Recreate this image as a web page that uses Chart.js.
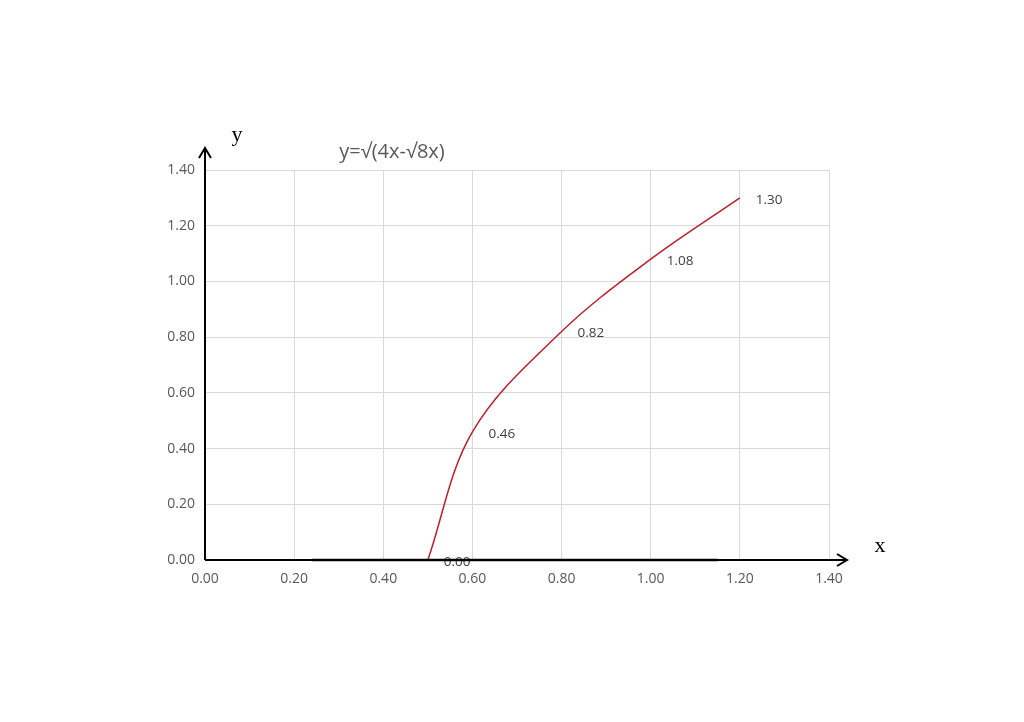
<!DOCTYPE html>
<html>
<head>
<meta charset="utf-8">
<script src="https://cdn.jsdelivr.net/npm/chart.js@4"></script>
<style>
html,body{margin:0;padding:0;background:#fff;}
#wrap{position:relative;width:1024px;height:722px;}
</style>
</head>
<body>
<div id="wrap"><canvas id="c" width="1024" height="722"></canvas></div>
<script>
const titleText = 'y=√(4x-√8x)';
const xValues = [0.5, 0.6, 0.8, 1.0, 1.2];
const yValues = [0.00, 0.46, 0.82, 1.08, 1.30];
const pointLabels = ['0.00', '0.46', '0.82', '1.08', '1.30'];
const axisMin = 0, axisMax = 1.4, axisStep = 0.2;

const points = xValues.map((x, i) => ({x: x, y: yValues[i]}));

const FONT = "'Open Sans', 'Liberation Sans', sans-serif";

const decor = {
  id: 'decor',
  afterDatasetsDraw(chart) {
    const ctx = chart.ctx;
    const xs = chart.scales.x, ys = chart.scales.y;
    const x0 = xs.getPixelForValue(0), y0 = ys.getPixelForValue(0);
    const ca = chart.chartArea;
    ctx.save();
    // data labels
    const meta = chart.getDatasetMeta(0);
    ctx.fillStyle = '#404040';
    ctx.font = "13.5px " + FONT;
    ctx.textAlign = 'left';
    ctx.textBaseline = 'middle';
    meta.data.forEach((el, i) => {
      ctx.fillText(pointLabels[i], el.x + 16, el.y + 2);
    });
    // axes
    ctx.strokeStyle = '#000';
    ctx.lineWidth = 2;
    ctx.beginPath();
    ctx.moveTo(x0, y0);
    ctx.lineTo(ca.right + 18, y0);
    ctx.stroke();
    ctx.beginPath();
    ctx.moveTo(ca.right + 8, y0 - 6);
    ctx.lineTo(ca.right + 18, y0);
    ctx.lineTo(ca.right + 8, y0 + 6);
    ctx.stroke();
    ctx.beginPath();
    ctx.moveTo(x0, y0);
    ctx.lineTo(x0, ca.top - 22);
    ctx.stroke();
    ctx.beginPath();
    ctx.moveTo(x0 - 6, ca.top - 12);
    ctx.lineTo(x0, ca.top - 22);
    ctx.lineTo(x0 + 6, ca.top - 12);
    ctx.stroke();
    // thicker segment on x axis
    ctx.lineWidth = 2.5;
    ctx.beginPath();
    ctx.moveTo(xs.getPixelForValue(0.24), y0);
    ctx.lineTo(xs.getPixelForValue(1.15), y0);
    ctx.stroke();
    // axis letters
    ctx.fillStyle = '#000';
    ctx.font = "22px 'Liberation Serif', 'DejaVu Serif', serif";
    ctx.textAlign = 'center';
    ctx.textBaseline = 'middle';
    ctx.fillText('y', 237, 135);
    ctx.fillText('x', 880, 546);
    // title
    ctx.fillStyle = '#595959';
    ctx.font = "20px " + FONT;
    ctx.fillText(titleText, 392, 152);
    ctx.restore();
  }
};

new Chart(document.getElementById('c'), {
  type: 'scatter',
  data: {
    datasets: [{
      data: points,
      showLine: true,
      borderColor: '#b8202a',
      borderWidth: 1.5,
      pointRadius: 0,
      pointHoverRadius: 0,
      tension: 0.35,
      fill: false
    }]
  },
  options: {
    responsive: false,
    animation: false,
    events: [],
    layout: { padding: { left: 0, top: 170, right: 195, bottom: 0 } },
    plugins: { legend: { display: false }, tooltip: { enabled: false }, title: { display: false } },
    scales: {
      x: {
        type: 'linear', min: axisMin, max: axisMax,
        afterFit(s) { s.height = 162; },
        grid: { color: '#d9d9d9', lineWidth: 1, drawTicks: false },
        border: { display: false },
        ticks: { stepSize: axisStep, padding: 11, color: '#595959', font: { family: FONT, size: 14 },
          callback: v => v.toFixed(2) }
      },
      y: {
        type: 'linear', min: axisMin, max: axisMax,
        afterFit(s) { s.width = 205; },
        grid: { color: '#d9d9d9', lineWidth: 1, drawTicks: false },
        border: { display: false },
        ticks: { stepSize: axisStep, padding: 10, color: '#595959', font: { family: FONT, size: 14 },
          callback: v => v.toFixed(2) }
      }
    }
  },
  plugins: [decor]
});
</script>
</body>
</html>
